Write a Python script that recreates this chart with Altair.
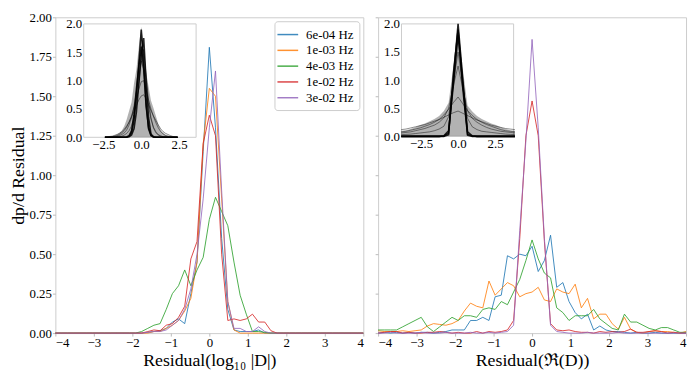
import altair as alt
import pandas as pd

# ---------------- data ----------------
X = [-4.0, -3.84, -3.68, -3.52, -3.36, -3.2, -3.04, -2.88, -2.72, -2.56,
     -2.4, -2.24, -2.08, -1.92, -1.76, -1.6, -1.44, -1.28, -1.12, -0.96,
     -0.8, -0.64, -0.48, -0.32, -0.16, 0.0, 0.16, 0.32, 0.48, 0.64,
     0.8, 0.96, 1.12, 1.28, 1.44, 1.6, 1.76, 1.92, 2.08, 2.24,
     2.4, 2.56, 2.72, 2.88, 3.04, 3.2, 3.36, 3.52, 3.68, 3.84, 4.0]

SERIES = ["6e-04 Hz", "1e-03 Hz", "4e-03 Hz", "1e-02 Hz", "3e-02 Hz"]
COLORS = ["#1f77b4", "#ff7f0e", "#2ca02c", "#d62728", "#9467bd"]

# left panel: Residual(log10 |D|)
LOG_BLUE = [0.0] * 15 + [0.005, 0.01, 0.015, 0.03, 0.07, 0.09, 0.06, 0.25, 0.45, 1.15,
                         1.81, 1.3, 0.6, 0.15, 0.02, 0.01, 0.01, 0.01, 0.02, 0.0] + [0.0] * 16
LOG_ORANGE = [0.0] * 15 + [0.0, 0.01, 0.01, 0.03, 0.05, 0.08, 0.14, 0.22, 0.45, 1.2,
                           1.55, 1.5, 0.85, 0.2, 0.02, 0.0, 0.0, 0.0, 0.0, 0.0] + [0.0] * 16
LOG_GREEN = [0.0] * 13 + [0.0, 0.01, 0.03, 0.05, 0.06, 0.15, 0.25, 0.30, 0.40, 0.30, 0.40, 0.48,
                          0.72, 0.86, 0.77, 0.68, 0.45, 0.24, 0.12, 0.01, 0.01, 0.005, 0.0] + [0.0] * 15
LOG_RED = [0.0] * 14 + [0.0, 0.01, 0.02, 0.015, 0.05, 0.06, 0.10, 0.17, 0.47, 0.58, 1.2,
                        1.38, 1.25, 0.5, 0.08, 0.09, 0.08, 0.09, 0.12, 0.07, 0.07, 0.015, 0.0] + [0.0] * 14
LOG_PURPLE = [0.0] * 14 + [0.0, 0.005, 0.01, 0.01, 0.02, 0.05, 0.08, 0.15, 0.28, 0.5, 0.85,
                           1.3, 1.66, 0.9, 0.2, 0.03, 0.03, 0.01, 0.01, 0.04, 0.01, 0.0] + [0.0] * 15

# right panel: Residual(Re(D))
RE_BLUE = [0.0, 0.005, 0.0, 0.005, 0.0, 0.005, 0.0, 0.005, 0.005, 0.0,
           0.005, 0.01, 0.02, 0.02, 0.02, 0.08, 0.08, 0.10, 0.08, 0.23,
           0.24, 0.49, 0.47, 0.50, 0.49, 0.55, 0.39, 0.46, 0.62, 0.29,
           0.32, 0.20, 0.13, 0.09, 0.12, 0.02, 0.045, 0.02, 0.01, 0.01,
           0.005, 0.0, 0.005, 0.0, 0.0, 0.005, 0.0, 0.0, 0.0, 0.0, 0.0]
RE_ORANGE = [0.015, 0.01, 0.01, 0.01, 0.015, 0.01, 0.015, 0.02, 0.045, 0.06,
             0.055, 0.05, 0.06, 0.08, 0.14, 0.19, 0.17, 0.16, 0.33, 0.24,
             0.28, 0.32, 0.30, 0.23, 0.25, 0.26, 0.29, 0.21, 0.20, 0.28,
             0.26, 0.25, 0.31, 0.16, 0.22, 0.09, 0.12, 0.12, 0.06, 0.025,
             0.10, 0.025, 0.005, 0.0, 0.01, 0.015, 0.01, 0.01, 0.005, 0.0, 0.01]
RE_GREEN = [0.02, 0.02, 0.02, 0.02, 0.04, 0.06, 0.08, 0.10, 0.04, 0.01,
            0.04, 0.07, 0.10, 0.08, 0.11, 0.11, 0.10, 0.15, 0.16, 0.15,
            0.20, 0.18, 0.26, 0.34, 0.46, 0.59, 0.47, 0.38, 0.35, 0.16,
            0.13, 0.08, 0.11, 0.11, 0.11, 0.15, 0.09, 0.06, 0.03, 0.02,
            0.12, 0.07, 0.07, 0.05, 0.03, 0.02, 0.035, 0.035, 0.02, 0.005, 0.005]
RE_RED = [0.0, 0.005, 0.01, 0.01, 0.0, 0.005, 0.0, 0.0, 0.005, 0.005,
          0.01, 0.005, 0.0, 0.005, 0.0, 0.0, 0.01, 0.0, 0.01, 0.005,
          0.01, 0.02, 0.08, 0.6, 1.25, 1.47, 1.25, 0.58, 0.06, 0.02,
          0.015, 0.02, 0.01, 0.005, 0.005, 0.0, 0.01, 0.005, 0.01, 0.005,
          0.01, 0.025, 0.005, 0.005, 0.01, 0.015, 0.01, 0.0, 0.005, 0.0, 0.0]
RE_PURPLE = [0.0, 0.0, 0.005, 0.0, 0.0, 0.0, 0.0, 0.005, 0.0, 0.0,
             0.0, 0.005, 0.0, 0.0, 0.0, 0.005, 0.0, 0.0, 0.005, 0.0,
             0.005, 0.01, 0.05, 0.65, 1.22, 1.86, 1.3, 0.6, 0.05, 0.01,
             0.005, 0.0, 0.0, 0.0, 0.005, 0.0, 0.0, 0.0, 0.0, 0.005,
             0.0, 0.0, 0.0, 0.0, 0.0, 0.0, 0.0, 0.0, 0.0, 0.0, 0.0]

X_TICKS = [-4, -3, -2, -1, 0, 1, 2, 3, 4]
Y_TICKS = [0.0, 0.25, 0.5, 0.75, 1.0, 1.25, 1.5, 1.75, 2.0]
INSET_X_TICKS = [-2.5, 0.0, 2.5]
INSET_Y_TICKS = [0.0, 0.5, 1.0, 1.5, 2.0]

# left inset (many histograms, represented by envelope + representative curves)
LI_X = [-2.4, -2.24, -2.08, -1.92, -1.76, -1.6, -1.44, -1.28, -1.12, -0.96,
        -0.8, -0.64, -0.48, -0.32, -0.16, 0.0, 0.16, 0.32, 0.48, 0.64,
        0.8, 0.96, 1.12, 1.28, 1.44, 1.6, 1.76, 1.92, 2.08, 2.24, 2.4]
LI_XLIM = [-3.8, 3.62]
LI_ENV = [0.0, 0.005, 0.01, 0.02, 0.03, 0.05, 0.08, 0.12, 0.2, 0.32,
          0.47, 0.62, 0.95, 1.2, 1.6, 1.95, 1.6, 1.15, 0.9, 0.65,
          0.52, 0.38, 0.24, 0.13, 0.08, 0.05, 0.035, 0.02, 0.01, 0.005, 0.0]
LI_GRAY = {
    "g1": [0.0, 0.0, 0.005, 0.01, 0.02, 0.03, 0.05, 0.08, 0.12, 0.18, 0.27, 0.38, 0.52, 0.68, 0.85,
           0.98, 1.0, 0.85, 0.66, 0.5, 0.37, 0.26, 0.17, 0.1, 0.06, 0.03, 0.015, 0.008, 0.004, 0.0, 0.0],
    "g2": [0.0, 0.0, 0.0, 0.005, 0.01, 0.015, 0.03, 0.05, 0.08, 0.13, 0.22, 0.35, 0.55, 0.8, 1.1,
           1.35, 1.2, 0.85, 0.55, 0.32, 0.18, 0.1, 0.05, 0.025, 0.01, 0.005, 0.0, 0.0, 0.0, 0.0, 0.0],
    "g3": [0.005, 0.01, 0.015, 0.02, 0.035, 0.05, 0.07, 0.1, 0.14, 0.2, 0.27, 0.36, 0.46, 0.56, 0.66,
           0.73, 0.75, 0.68, 0.58, 0.47, 0.38, 0.3, 0.22, 0.15, 0.1, 0.07, 0.05, 0.03, 0.015, 0.008, 0.003],
    "g4": [0.0, 0.0, 0.0, 0.0, 0.0, 0.005, 0.01, 0.02, 0.04, 0.07, 0.12, 0.2, 0.35, 0.6, 0.95,
           1.35, 1.55, 1.1, 0.65, 0.35, 0.17, 0.08, 0.04, 0.02, 0.01, 0.005, 0.0, 0.0, 0.0, 0.0, 0.0],
}
LI_CORE = {
    "c1": [0.0] * 9 + [0.005, 0.02, 0.08, 0.3, 0.75, 1.3, 1.9, 1.35, 0.6, 0.15, 0.03, 0.005, 0.0] + [0.0] * 10,
    "c2": [0.0] * 9 + [0.0, 0.01, 0.04, 0.15, 0.45, 0.95, 1.45, 1.75, 1.0, 0.35, 0.06, 0.01, 0.0] + [0.0] * 10,
    "c3": [0.0] * 9 + [0.005, 0.03, 0.12, 0.4, 0.85, 1.25, 1.6, 1.2, 0.55, 0.18, 0.04, 0.01, 0.0] + [0.0] * 10,
}

# right inset
RI_X = [-3.84, -3.52, -3.2, -2.88, -2.56, -2.24, -1.92, -1.6, -1.28, -0.96, -0.64, -0.32, 0.0,
        0.32, 0.64, 0.96, 1.28, 1.6, 1.92, 2.24, 2.56, 2.88, 3.2, 3.52, 3.84]
RI_XLIM = [-3.82, 3.75]
RI_ENV = [0.1, 0.11, 0.13, 0.16, 0.2, 0.23, 0.27, 0.31, 0.36, 0.45, 0.6, 1.25, 2.0,
          1.2, 0.55, 0.44, 0.36, 0.31, 0.27, 0.23, 0.2, 0.16, 0.13, 0.11, 0.1]
RI_GRAY = {
    "g1": [0.06, 0.07, 0.08, 0.1, 0.12, 0.14, 0.17, 0.2, 0.25, 0.33, 0.5, 0.9, 1.25,
           0.85, 0.45, 0.32, 0.25, 0.2, 0.16, 0.13, 0.11, 0.09, 0.08, 0.07, 0.06],
    "g2": [0.08, 0.09, 0.11, 0.13, 0.15, 0.18, 0.21, 0.25, 0.3, 0.38, 0.48, 0.6, 0.7,
           0.58, 0.46, 0.37, 0.3, 0.25, 0.21, 0.18, 0.15, 0.12, 0.1, 0.09, 0.08],
    "g3": [0.03, 0.035, 0.04, 0.05, 0.06, 0.07, 0.08, 0.1, 0.13, 0.18, 0.35, 0.95, 1.5,
           0.9, 0.32, 0.17, 0.12, 0.09, 0.08, 0.07, 0.06, 0.05, 0.04, 0.035, 0.03],
    "g4": [0.12, 0.13, 0.15, 0.17, 0.19, 0.21, 0.24, 0.27, 0.3, 0.34, 0.38, 0.42, 0.45,
           0.41, 0.37, 0.33, 0.29, 0.26, 0.23, 0.2, 0.18, 0.16, 0.14, 0.13, 0.12],
}
RI_CORE = {
    "c1": [0.0] * 9 + [0.005, 0.06, 1.0, 2.0, 1.0, 0.04, 0.005] + [0.0] * 9,
    "c2": [0.0] * 9 + [0.01, 0.1, 0.9, 1.8, 0.95, 0.08, 0.01] + [0.0] * 9,
    "c3": [0.0] * 9 + [0.0, 0.03, 1.1, 1.9, 0.85, 0.02, 0.0] + [0.0] * 9,
}

# ---------------- layout ----------------
W_L = 312
W_R = 312
H = 320
SERIF = "Liberation Serif"
FRAME = "#cccccc"


def main_df(arrays):
    rows = []
    for name, vals in zip(SERIES, arrays):
        for x, v in zip(X, vals):
            rows.append({"x": x, "y": v, "series": name})
    return pd.DataFrame(rows)


def curves_df(xs, curves):
    rows = []
    for name, vals in curves.items():
        for x, v in zip(xs, vals):
            rows.append({"x": x, "y": v, "curve": name})
    return pd.DataFrame(rows)


def main_chart(df, xtitle, first):
    if first:
        legend = alt.Legend(orient="top-right", offset=4, title=None, symbolType="M-1.4,0H1.4",
                            symbolSize=225, symbolStrokeWidth=1.5, labelFont=SERIF,
                            labelFontSize=13, fillColor="white", strokeColor=FRAME,
                            padding=5, cornerRadius=3, rowPadding=0, labelOffset=10)
        yaxis = alt.Axis(values=Y_TICKS, format=".2f", title="dp/d Residual")
    else:
        legend = None
        yaxis = alt.Axis(values=Y_TICKS, labels=False, title=None)
    return alt.Chart(df).mark_line(strokeWidth=1, opacity=0.85).encode(
        x=alt.X("x:Q", scale=alt.Scale(domain=[-4, 4], nice=False, zero=False),
                axis=alt.Axis(values=X_TICKS, format="d", title=xtitle)),
        y=alt.Y("y:Q", scale=alt.Scale(domain=[0, 2], nice=False), axis=yaxis),
        color=alt.Color("series:N", scale=alt.Scale(domain=SERIES, range=COLORS), legend=legend),
    )


def inset_chart(xs, xlim, env, gray, core, fx, fy, W):
    x0, x1 = fx[0] * W, fx[1] * W
    y0, y1 = fy[0] * H, fy[1] * H
    xs_scale = alt.Scale(domain=xlim, range=[x0, x1], nice=False, zero=False)
    ys_scale = alt.Scale(domain=[0, 2], range=[y1, y0], nice=False)
    xaxis = alt.Axis(orient="bottom", offset=-(H - y1), values=INSET_X_TICKS, format=".1f",
                     ticks=False, domain=False, grid=False, title=None, labelPadding=1)
    yaxis = alt.Axis(orient="left", offset=-x0, values=INSET_Y_TICKS, format=".1f",
                     ticks=False, domain=False, grid=False, title=None, labelPadding=2)

    def X_():
        return alt.X("x:Q", scale=xs_scale, axis=xaxis)

    def Y_():
        return alt.Y("y:Q", scale=ys_scale, axis=yaxis)

    frame_df = pd.DataFrame({"x": [xlim[0]], "x2": [xlim[1]], "y": [0.0], "y2": [2.0]})
    frame = alt.Chart(frame_df).mark_rect(fill="white", stroke=FRAME, strokeWidth=1).encode(
        x=X_(), x2="x2:Q", y=Y_(), y2="y2:Q")

    env_df = pd.DataFrame({"x": xs, "y": env})
    area = alt.Chart(env_df).mark_area(color="#000000", opacity=0.3, clip=True).encode(x=X_(), y=Y_())

    g = alt.Chart(curves_df(xs, gray)).mark_line(color="#000000", opacity=0.45, strokeWidth=1,
                                                 clip=True).encode(x=X_(), y=Y_(), detail="curve:N")
    c = alt.Chart(curves_df(xs, core)).mark_line(color="#000000", opacity=0.85, strokeWidth=1.6,
                                                 clip=True).encode(x=X_(), y=Y_(), detail="curve:N")
    return alt.layer(frame, area, g, c)


left = alt.layer(
    main_chart(main_df([LOG_BLUE, LOG_ORANGE, LOG_GREEN, LOG_RED, LOG_PURPLE]),
               "Residual(log\u2081\u2080 |D|)", True),
    inset_chart(LI_X, LI_XLIM, LI_ENV, LI_GRAY, LI_CORE, (0.092, 0.457), (0.021, 0.380), W_L),
).resolve_scale(x="independent", y="independent").properties(width=W_L, height=H)

right = alt.layer(
    main_chart(main_df([RE_BLUE, RE_ORANGE, RE_GREEN, RE_RED, RE_PURPLE]),
               "Residual(\u211c(D))", False),
    inset_chart(RI_X, RI_XLIM, RI_ENV, RI_GRAY, RI_CORE, (0.076, 0.44), (0.021, 0.377), W_R),
).resolve_scale(x="independent", y="independent").properties(width=W_R, height=H)

chart = alt.hconcat(left, right, spacing=8).resolve_scale(color="independent").properties(
    padding=0
).configure_view(stroke=FRAME, strokeWidth=1).configure_axis(
    labelFont=SERIF, labelFontSize=13, labelColor="#000000",
    titleFont=SERIF, titleFontSize=18, titleFontWeight="normal", titleColor="#000000",
    tickColor="#bbbbbb", tickSize=3, domain=False, grid=False, labelPadding=1, titlePadding=2,
)

chart.save("out.html", embed_options={"renderer": "svg", "actions": False})
